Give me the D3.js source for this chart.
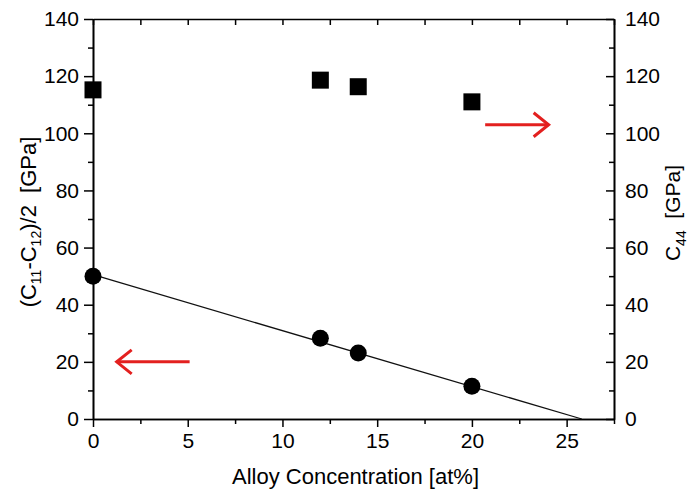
<!DOCTYPE html>
<html>
<head>
<meta charset="utf-8">
<script src="https://cdn.jsdelivr.net/npm/d3@7"></script>
<style>
  html, body { margin: 0; padding: 0; background: #fff; }
  svg { display: block; font-family: "Liberation Sans", Arial, Helvetica, sans-serif; }
</style>
</head>
<body>
<svg id="chart" width="688" height="494"></svg>
<script>
// ---- data ----
const concentration = [0, 12, 14, 20];           // at%
const shearModulus = [50, 28.3, 23.1, 11.5];      // (C11-C12)/2 [GPa], left axis
const c44 = [115.2, 118.6, 116.3, 111];           // C44 [GPa], right axis
const fitX = [0, 25.8];
const fitY = [50.5, 0];
const xTicks = [0, 5, 10, 15, 20, 25];
const xMinorTicks = [2.5, 7.5, 12.5, 17.5, 22.5, 27.5];
const yTicks = [0, 20, 40, 60, 80, 100, 120, 140];
const yMinorTicks = [10, 30, 50, 70, 90, 110, 130];
const leftArrowX = [5.1, 1.25], leftArrowY = 20;
const rightArrowX = [20.7, 24.05], rightArrowY = 103;

const svg = d3.select("#chart");
const M = { left: 93, right: 614, top: 19, bottom: 419 };
const x = d3.scaleLinear().domain([0, 27.5]).range([M.left, M.right]);
const y = d3.scaleLinear().domain([0, 140]).range([M.bottom, M.top]);
const y2 = d3.scaleLinear().domain([0, 140]).range([M.bottom, M.top]);

const fs = "21px";
function styleAxis(g) {
  g.selectAll("path.domain").attr("stroke", "#000").attr("stroke-width", 1.6);
  g.selectAll(".tick line").attr("stroke", "#000").attr("stroke-width", 1.5);
  g.selectAll(".tick text").attr("fill", "#000").style("font-size", fs);
}

// bottom
svg.append("g").attr("transform", `translate(0,${M.bottom})`)
  .call(d3.axisBottom(x).tickValues(xTicks).tickSize(8).tickSizeOuter(0).tickPadding(6).tickFormat(d3.format("d")))
  .call(styleAxis);
svg.append("g").attr("transform", `translate(0,${M.bottom})`)
  .call(d3.axisBottom(x).tickValues(xMinorTicks).tickSize(5).tickSizeOuter(0).tickFormat(""))
  .call(styleAxis);
// top (ticks inward)
svg.append("g").attr("transform", `translate(0,${M.top})`)
  .call(d3.axisTop(x).tickValues(xTicks.concat(xMinorTicks)).tickSize(-6).tickSizeOuter(0).tickFormat(""))
  .call(styleAxis);
// left
svg.append("g").attr("transform", `translate(${M.left},0)`)
  .call(d3.axisLeft(y).tickValues(yTicks).tickSize(9).tickSizeOuter(0).tickPadding(5))
  .call(styleAxis);
svg.append("g").attr("transform", `translate(${M.left},0)`)
  .call(d3.axisLeft(y).tickValues(yMinorTicks).tickSize(5).tickSizeOuter(0).tickFormat(""))
  .call(styleAxis);
// right (ticks inward, labels outside)
const rightAxis = svg.append("g").attr("transform", `translate(${M.right},0)`)
  .call(d3.axisRight(y2).tickValues(yTicks).tickSize(-8).tickSizeOuter(0).tickPadding(0))
  .call(styleAxis);
rightAxis.selectAll(".tick text").attr("x", 11);
svg.append("g").attr("transform", `translate(${M.right},0)`)
  .call(d3.axisRight(y2).tickValues(yMinorTicks).tickSize(-5).tickSizeOuter(0).tickFormat(""))
  .call(styleAxis);

// fit line
const pts = fitX.map((d, i) => [d, fitY[i]]);
svg.append("path").datum(pts)
  .attr("d", d3.line().x(d => x(d[0])).y(d => y(d[1])))
  .attr("fill", "none").attr("stroke", "#111").attr("stroke-width", 1.3);

// circles
svg.selectAll("circle.pt").data(concentration).join("circle")
  .attr("class", "pt")
  .attr("cx", d => x(d)).attr("cy", (d, i) => y(shearModulus[i])).attr("r", 8.5)
  .attr("fill", "#000");

// squares
const sq = 17;
svg.selectAll("rect.sq").data(concentration).join("rect")
  .attr("class", "sq")
  .attr("x", d => x(d) - sq / 2).attr("y", (d, i) => y2(c44[i]) - sq / 2)
  .attr("width", sq).attr("height", sq).attr("fill", "#000");

// red arrows
function arrow(xs, yv, scaleY) {
  const x0 = x(xs[0]), x1 = x(xs[1]), yy = scaleY(yv);
  const dir = Math.sign(x1 - x0);
  const g = svg.append("g").attr("stroke", "#e3201f").attr("stroke-width", 3)
    .attr("fill", "none").attr("stroke-linecap", "butt").attr("stroke-linejoin", "miter");
  g.append("line").attr("x1", x0).attr("y1", yy).attr("x2", x1).attr("y2", yy);
  g.append("path").attr("d", `M${x1 - dir * 15},${yy - 12} L${x1},${yy} L${x1 - dir * 15},${yy + 12}`);
}
arrow(leftArrowX, leftArrowY, y);
arrow(rightArrowX, rightArrowY, y2);

// axis titles
svg.append("text")
  .attr("x", (M.left + M.right) / 2 + 2).attr("y", 484)
  .attr("text-anchor", "middle").style("font-size", "22px").attr("fill", "#000")
  .text("Alloy Concentration [at%]");

const lt = svg.append("text")
  .attr("transform", "translate(36,222) rotate(-90)")
  .attr("text-anchor", "middle").style("font-size", "22px").attr("fill", "#000");
lt.append("tspan").text("(C");
lt.append("tspan").attr("dy", 5).style("font-size", "14px").text("11");
lt.append("tspan").attr("dy", -5).text("-C");
lt.append("tspan").attr("dy", 5).style("font-size", "14px").text("12");
lt.append("tspan").attr("dy", -5).text(")/2\u00a0\u00a0[GPa]");

const rt = svg.append("text")
  .attr("transform", "translate(680,213) rotate(-90)")
  .attr("text-anchor", "middle").style("font-size", "21px").attr("fill", "#000");
rt.append("tspan").text("C");
rt.append("tspan").attr("dy", 6).style("font-size", "14px").text("44");
rt.append("tspan").attr("dy", -6).text("\u00a0\u00a0[GPa]");
</script>
</body>
</html>
